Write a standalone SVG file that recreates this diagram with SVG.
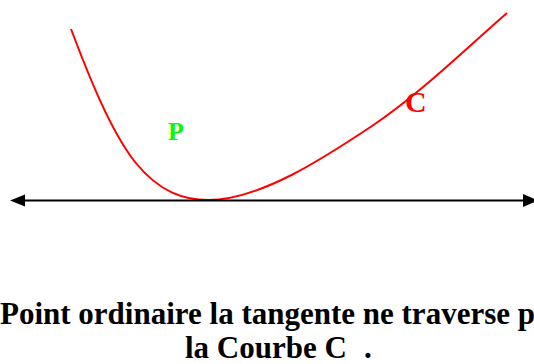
<svg xmlns="http://www.w3.org/2000/svg" width="534" height="364" viewBox="0 0 534 364">
<style>
.lbl{font-family:"Liberation Serif","Times New Roman",serif;font-weight:bold}
.cap{font-size:31px;fill:#000}
</style>
<rect x="0" y="0" width="534" height="364" fill="#fff"/>
<g id="curve">
<path d="M71,29 C88,74 110,130 135,162 C160,193 185,200 208,200 C260,200 324,158 372,126 C420,94 470,45 507,13" fill="none" stroke="#ff0000" stroke-width="2"/>
</g>
<g id="tangent">
<line x1="22" y1="200.5" x2="526" y2="200.5" stroke="#000" stroke-width="2"/>
<polygon points="10,200.5 25,194.5 25,206.5" fill="#000"/>
<polygon points="538,200.5 523,194 523,207" fill="#000"/>
</g>
<g id="label-P"><text class="lbl" x="168" y="140" font-size="26" fill="#00ff00">P</text></g>
<g id="label-C"><text class="lbl" x="405" y="112" font-size="30" fill="#ff0000">C</text></g>
<g id="caption">
<text class="lbl cap" x="0" y="324">Point ordinaire la tangente ne traverse p</text>
<text class="lbl cap" x="185" y="358">la Courbe C<tspan x="364">.</tspan></text>
</g>
</svg>
